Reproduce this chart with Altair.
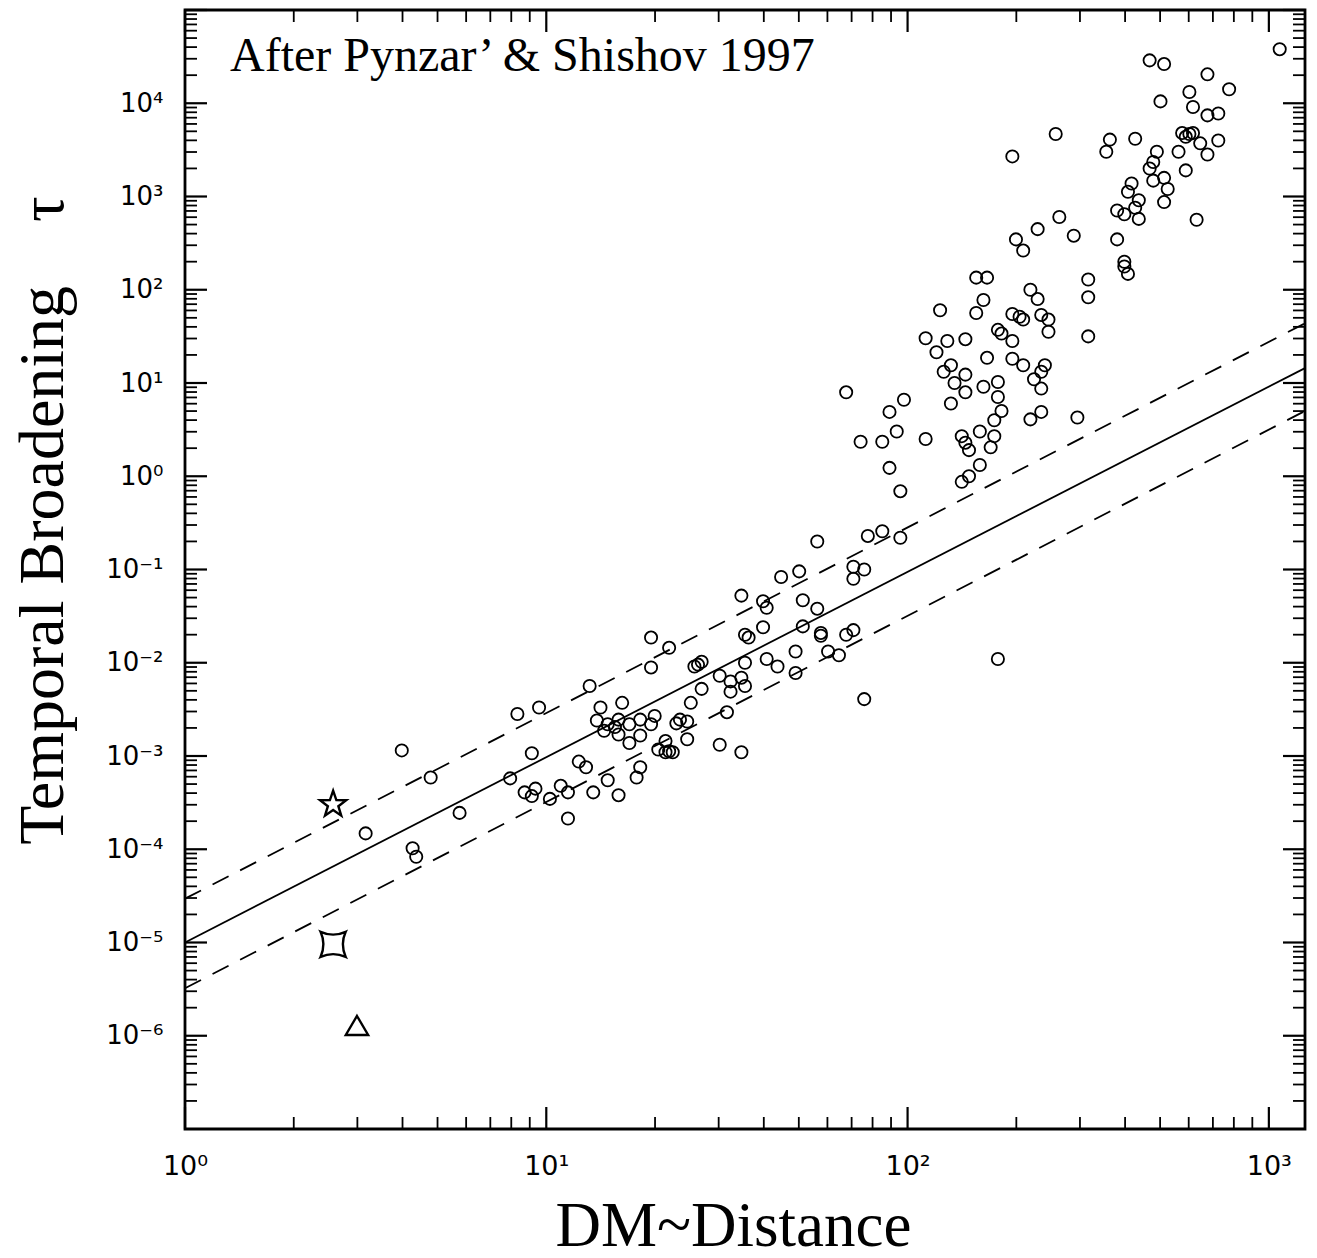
import altair as alt
import pandas as pd

# ---- data (log10 of DM and of tau) ----
log_dm = [
    0.60, 0.68, 0.50, 0.63, 0.64, 0.76,
    0.92, 0.98, 1.12, 0.96, 0.90, 0.94, 0.97, 0.96, 1.04, 1.01, 1.06, 1.06, 1.09, 1.11,
    1.13, 1.17, 1.20, 1.15, 1.21, 1.14, 1.17, 1.20, 1.19, 1.20, 1.16, 1.23,
    1.75, 1.89, 1.93, 1.65, 1.70, 1.85, 1.88, 1.85, 1.54, 1.60, 1.61, 1.71, 1.75, 1.60,
    1.71, 1.55, 1.56, 1.76, 1.76, 1.83, 1.85, 1.29, 1.34, 1.29, 1.42, 1.43, 1.41, 1.55,
    1.61, 1.64, 1.69, 1.69, 1.78, 1.81, 1.88, 1.48, 1.51, 1.54, 1.55, 1.51, 1.43, 1.40,
    1.30, 1.26, 1.29, 1.23, 1.26, 1.37, 1.36, 1.39, 1.39, 1.33, 1.34, 1.35, 1.33, 1.31,
    1.50, 1.48, 1.54, 1.26, 1.25,
    1.98, 2.25, 1.83, 2.19, 2.22, 2.34, 2.36, 2.50, 2.50, 2.09, 2.21, 2.19, 2.29, 2.32,
    2.31, 2.37, 2.39, 2.39, 2.50, 2.05, 2.11, 2.16, 2.08, 2.25, 2.26, 2.29, 2.22, 2.29,
    2.32, 2.38, 2.37, 2.35, 2.37, 2.12, 2.10, 2.16, 2.13, 2.16, 2.21, 2.25, 2.25, 2.12,
    1.99, 1.95, 2.26, 2.24, 2.34, 2.37, 2.47, 1.97, 1.87, 1.93, 2.05, 2.15, 2.20, 2.24,
    2.16, 2.17, 2.23, 1.95, 2.20, 2.15, 2.17, 1.98,
    2.41, 2.29, 2.42, 2.36, 2.30, 2.32, 2.46,
    3.03, 2.67, 2.71, 2.83, 2.89, 2.78, 2.79, 2.83, 2.86, 2.70, 2.56, 2.55, 2.63, 2.76,
    2.78, 2.79, 2.77, 2.81, 2.86, 2.83, 2.75, 2.77, 2.69, 2.68, 2.67, 2.68, 2.71, 2.72,
    2.71, 2.62, 2.61, 2.64, 2.63, 2.58, 2.60, 2.64, 2.80, 2.58, 2.60, 2.60, 2.61,
]
log_tau = [
    -2.94, -3.23, -3.83, -3.99, -4.08, -3.61,
    -2.55, -2.48, -2.25, -2.97, -3.24, -3.39, -3.35, -3.43, -3.32, -3.46, -3.39, -3.67, -3.06, -3.12,
    -3.39, -3.26, -3.42, -2.48, -2.43, -2.62, -2.66, -2.61, -2.69, -2.77, -2.73, -2.86,
    -0.70, -0.64, -0.59, -1.08, -1.02, -0.97, -1.00, -1.10, -1.28, -1.34, -1.41, -1.33, -1.42, -1.62,
    -1.61, -1.70, -1.73, -1.68, -1.71, -1.70, -1.65, -1.73, -1.84, -2.05, -2.02, -1.99, -2.04, -2.00,
    -1.96, -2.04, -1.88, -2.11, -1.88, -1.92, -2.39, -2.14, -2.20, -2.16, -2.25, -2.31, -2.28, -2.43,
    -2.57, -2.61, -2.66, -2.66, -2.78, -2.61, -2.65, -2.63, -2.82, -2.84, -2.95, -2.96, -2.96, -2.93,
    -2.53, -2.88, -2.96, -3.12, -3.23,
    -0.66, -1.96, 0.90, 2.13, 2.13, 2.00, 1.90, 2.11, 1.92, 1.78, 1.89, 1.75, 1.74, 1.68,
    1.71, 1.73, 1.68, 1.55, 1.50, 1.48, 1.45, 1.47, 1.33, 1.57, 1.53, 1.45, 1.27, 1.26,
    1.19, 1.19, 1.12, 1.04, 0.94, 1.19, 1.12, 1.09, 1.00, 0.90, 0.96, 1.01, 0.85, 0.78,
    0.82, 0.69, 0.70, 0.60, 0.61, 0.69, 0.63, 0.48, 0.37, 0.37, 0.40, 0.43, 0.48, 0.43,
    0.36, 0.28, 0.31, 0.09, 0.12, -0.06, 0.00, -0.16,
    3.67, 3.43, 2.78, 2.65, 2.54, 2.42, 2.58,
    4.58, 4.46, 4.42, 4.31, 4.15, 4.12, 3.96, 3.87, 3.89, 4.02, 3.61, 3.48, 3.62, 3.68,
    3.67, 3.68, 3.64, 3.57, 3.60, 3.45, 3.48, 3.28, 3.48, 3.37, 3.30, 3.17, 3.20, 3.08,
    2.94, 3.14, 3.05, 2.96, 2.88, 2.85, 2.81, 2.76, 2.75, 2.54, 2.30, 2.25, 2.17,
]

# special sources (open symbols)
special_kind = ["star", "fourstar", "triangle"]
special_log_dm = [0.41, 0.41, 0.476]
special_log_tau = [-3.52, -5.02, -5.89]

# fit line (solid) and its factor-of-3 band (dashed), endpoints in log10
line_log_dm = [0.0, 3.1]
solid_log_tau = [-5.00, 1.16]
upper_log_tau = [-4.53, 1.64]
lower_log_tau = [-5.49, 0.70]

# axis tick values and their labels
x_major = [1, 10, 100, 1000]
x_major_labels = ["10\u2070", "10\u00b9", "10\u00b2", "10\u00b3"]
y_exponents = [-6, -5, -4, -3, -2, -1, 0, 1, 2, 3, 4]
y_major_labels = ["10\u207b\u2076", "10\u207b\u2075", "10\u207b\u2074", "10\u207b\u00b3",
                  "10\u207b\u00b2", "10\u207b\u00b9", "10\u2070", "10\u00b9", "10\u00b2",
                  "10\u00b3", "10\u2074"]

annotation = "After Pynzar\u2019 & Shishov 1997"
x_title = "DM~Distance"
y_title = "Temporal Broadening\u2002\u2002\u03c4"

# ---- build tables ----
W, H = 1120, 1119
X_MAX = 1259.0
pulsars = pd.DataFrame({"dm": [10 ** v for v in log_dm], "tau": [10 ** v for v in log_tau]})
special = pd.DataFrame({
    "kind": special_kind,
    "dm": [10 ** v for v in special_log_dm],
    "tau": [10 ** v for v in special_log_tau],
})
lines = pd.DataFrame({
    "name": ["solid"] * 2 + ["upper"] * 2 + ["lower"] * 2,
    "dm": [10 ** v for v in line_log_dm] * 3,
    "tau": [10 ** v for v in solid_log_tau + upper_log_tau + lower_log_tau],
})
y_labels = [10.0 ** k for k in y_exponents]
y_major = y_labels + [1e5]
x_minor = [m * 10 ** k for k in range(0, 4) for m in range(2, 10) if m * 10 ** k <= X_MAX]
y_minor = [m * 10.0 ** k for k in range(-7, 5) for m in range(2, 10)]

xs = alt.Scale(type="log", domain=[1, X_MAX], nice=False)
ys = alt.Scale(type="log", domain=[1e-7, 1e5], nice=False)


def label_expr(values, labels):
    expr = f"'{labels[-1]}'"
    for v, lab in reversed(list(zip(values[:-1], labels[:-1]))):
        expr = f"datum.value < {v * 3.0!r} ? '{lab}' : ({expr})"
    return expr


x_axis = alt.Axis(
    orient="bottom",
    values=x_major, labelExpr=label_expr(x_major, x_major_labels),
    ticks=False, domain=False, grid=False,
    labelPadding=24, labelFontSize=27, labelFont="DejaVu Sans", labelColor="black",
    labelFlush=False, labelOverlap=False,
    title=x_title, titleFont="Liberation Serif", titleFontSize=63, titleFontWeight="normal",
    titleColor="black", titleX=548, titleY=116, titleBaseline="alphabetic", titleAlign="center",
)
y_axis = alt.Axis(
    orient="left",
    values=y_labels, labelExpr=label_expr(y_labels, y_major_labels),
    ticks=False, domain=False, grid=False,
    labelPadding=22, labelFontSize=26, labelFont="DejaVu Sans", labelColor="black",
    labelFlush=False, labelOverlap=False, labelBaseline="middle",
    title=y_title, titleFont="Liberation Serif", titleFontSize=64, titleFontWeight="normal",
    titleColor="black", titleX=-123, titleY=510, titleAngle=270,
    titleBaseline="alphabetic", titleAlign="center",
)

points = alt.Chart(pulsars).mark_point(
    shape="circle", filled=False, size=150, strokeWidth=1.8, color="black", opacity=1
).encode(
    x=alt.X("dm:Q", scale=xs, axis=x_axis),
    y=alt.Y("tau:Q", scale=ys, axis=y_axis),
)

star_path = ("M0,-1L0.235,-0.324L0.951,-0.309L0.38,0.124L0.588,0.809L0,0.4"
             "L-0.588,0.809L-0.38,0.124L-0.951,-0.309L-0.235,-0.324Z")
fourstar_path = "M-1,-1Q0,-0.55,1,-1Q0.55,0,1,1Q0,0.55,-1,1Q-0.55,0,-1,-1Z"
tri_path = "M0,-0.85L1,0.85L-1,0.85Z"

specials = alt.Chart(special).mark_point(
    filled=False, strokeWidth=2.4, color="black", opacity=1
).encode(
    x=alt.X("dm:Q", scale=xs, axis=None),
    y=alt.Y("tau:Q", scale=ys, axis=None),
    shape=alt.Shape("kind:N", scale=alt.Scale(domain=special_kind,
                    range=[star_path, fourstar_path, tri_path]), legend=None),
    size=alt.Size("kind:N", scale=alt.Scale(domain=special_kind,
                  range=[760, 500, 680]), legend=None),
)

solid = alt.Chart(lines).transform_filter("datum.name == 'solid'").mark_line(
    color="black", strokeWidth=1.8
).encode(
    x=alt.X("dm:Q", scale=xs, axis=None),
    y=alt.Y("tau:Q", scale=ys, axis=None),
)
dashed = alt.Chart(lines).transform_filter("datum.name != 'solid'").mark_line(
    color="black", strokeWidth=1.8, strokeDash=[18, 13]
).encode(
    x=alt.X("dm:Q", scale=xs, axis=None),
    y=alt.Y("tau:Q", scale=ys, axis=None),
    detail="name:N",
)


def yticks(values, length, width):
    base = alt.Chart(pd.DataFrame({"v": values})).mark_rule(color="black", strokeWidth=width)
    left = base.encode(y=alt.Y("v:Q", scale=ys, axis=None), x=alt.value(0), x2=alt.value(length))
    right = base.encode(y=alt.Y("v:Q", scale=ys, axis=None), x=alt.value(W - length), x2=alt.value(W))
    return [left, right]


def xticks(values, length, width):
    base = alt.Chart(pd.DataFrame({"v": values})).mark_rule(color="black", strokeWidth=width)
    bottom = base.encode(x=alt.X("v:Q", scale=xs, axis=None), y=alt.value(H - length), y2=alt.value(H))
    top = base.encode(x=alt.X("v:Q", scale=xs, axis=None), y=alt.value(0), y2=alt.value(length))
    return [bottom, top]


tick_layers = (yticks(y_major, 22, 2.2) + yticks(y_minor, 12, 1.8)
               + xticks(x_major, 22, 2.2) + xticks(x_minor, 12, 1.8))

note = alt.Chart(pd.DataFrame({"t": [annotation]})).mark_text(
    align="left", baseline="alphabetic", font="Liberation Serif", fontSize=48, color="black"
).encode(x=alt.value(45), y=alt.value(61), text="t:N")

chart = alt.layer(
    points, specials, solid, dashed, *tick_layers, note
).resolve_axis(
    x="independent", y="independent"
).properties(
    width=W, height=H,
    autosize=alt.AutoSizeParams(type="none"),
    padding={"left": 185, "top": 10, "right": 12, "bottom": 129},
    background="white",
).configure_view(stroke="black", strokeWidth=2.8)

chart.save("out.html", embed_options={"renderer": "svg", "actions": False})
